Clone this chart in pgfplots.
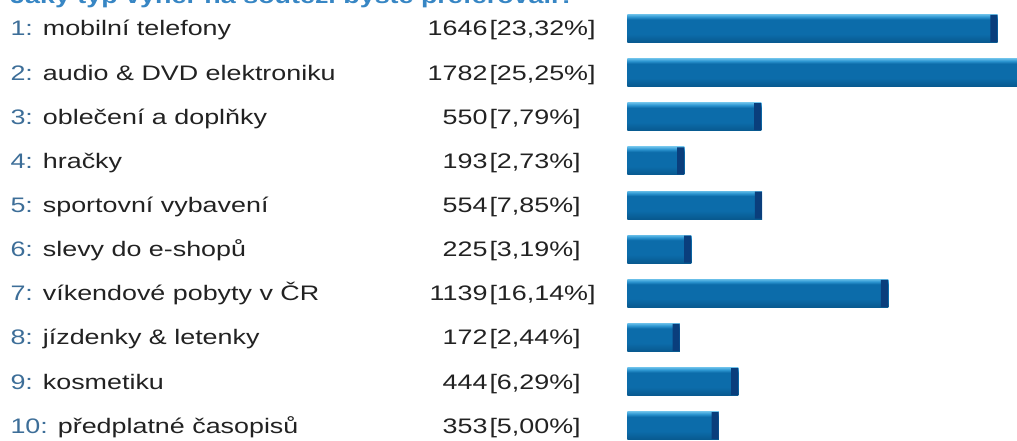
\documentclass[border=0pt]{standalone}
\usepackage{pgfplots}
\pgfplotsset{compat=1.18}
\usepackage{pgfplotstable}
\usetikzlibrary{shapes.misc}
\usepackage{fontspec}
\setmainfont[FakeStretch=1.28]{Liberation Sans}

\definecolor{textcol}{HTML}{222222}
\definecolor{numblue}{HTML}{3D6E98}
\definecolor{titleblue}{HTML}{3786C4}
\definecolor{barbot}{HTML}{08598F}
\definecolor{barmain}{HTML}{0C6CAA}
\definecolor{barlight}{HTML}{2E97D2}
\definecolor{barlighttop}{HTML}{62BAE6}
\definecolor{capcol}{HTML}{0A3E7C}

\pgfdeclareverticalshading{barshade}{100bp}{color(0bp)=(barbot); color(25bp)=(barbot); color(40bp)=(barmain); color(66bp)=(barmain); color(71bp)=(barlight); color(75bp)=(barlighttop); color(100bp)=(barlighttop)}

\newcommand\lab[4]{\makebox[357.75pt][l]{\textcolor{numblue}{#1:} #2}\makebox[0pt][r]{#3}\hspace{1.5pt}[#4\%]}

\pgfplotstableread{
idx value
1 1646
2 1782
3 550
4 193
5 554
6 225
7 1139
8 172
9 444
10 353
}\data

\begin{document}
\begin{tikzpicture}
\useasboundingbox (0,0) rectangle (762.75pt,330.75pt);
\clip (0,0) rectangle (762.75pt,330.75pt);
\node[anchor=base west, inner sep=0pt, text=titleblue, font=\bfseries\fontsize{15.75pt}{18pt}\selectfont] at (7.5pt,328.4pt) {Jaký typ výher na soutěži byste preferovali?};
\begin{axis}[
  at={(470.475pt,325.93pt)}, anchor=north west,
  scale only axis, width=302.55pt, height=330.98pt,
  xbar, bar width=21pt, bar shift=0pt,
  xmin=-72, xmax=1800, ymin=0.5, ymax=10.5, y dir=reverse,
  axis line style={draw=none}, tick style={draw=none},
  xtick=\empty, ytick={1,...,10},
  yticklabels={
    {\lab{1}{mobilní telefony}{1646}{23,32}},
    {\lab{2}{audio \& DVD elektroniku}{1782}{25,25}},
    {\lab{3}{oblečení a doplňky}{550}{7,79}},
    {\lab{4}{hračky}{193}{2,73}},
    {\lab{5}{sportovní vybavení}{554}{7,85}},
    {\lab{6}{slevy do e-shopů}{225}{3,19}},
    {\lab{7}{víkendové pobyty v ČR}{1139}{16,14}},
    {\lab{8}{jízdenky \& letenky}{172}{2,44}},
    {\lab{9}{kosmetiku}{444}{6,29}},
    {\lab{10}{předplatné časopisů}{353}{5,00}}},
  yticklabel style={anchor=base west, inner sep=0pt, xshift=-458.5pt, yshift=-5.625pt, text=textcol, font=\fontsize{15.75pt}{18pt}\selectfont},
]
\pgfplotsinvokeforeach{1,...,10}{
  % design stub: each bar in the original starts with a short fixed block left of zero
  \addplot[draw=none, shading=barshade] coordinates {(-72,#1)};
  \addplot[draw=none, shading=barshade,
    restrict y to domain=#1:#1,
    nodes near coords={\relax},
    every node near coord/.append style={anchor=east, inner sep=0pt, fill=capcol, draw=none,
       chamfered rectangle, chamfered rectangle corners=south east,
       chamfered rectangle xsep=3pt, chamfered rectangle ysep=3pt,
       minimum width=5.25pt, minimum height=20.25pt}]
    table[x=value, y=idx] {\data};
}
\end{axis}
\end{tikzpicture}
\end{document}
